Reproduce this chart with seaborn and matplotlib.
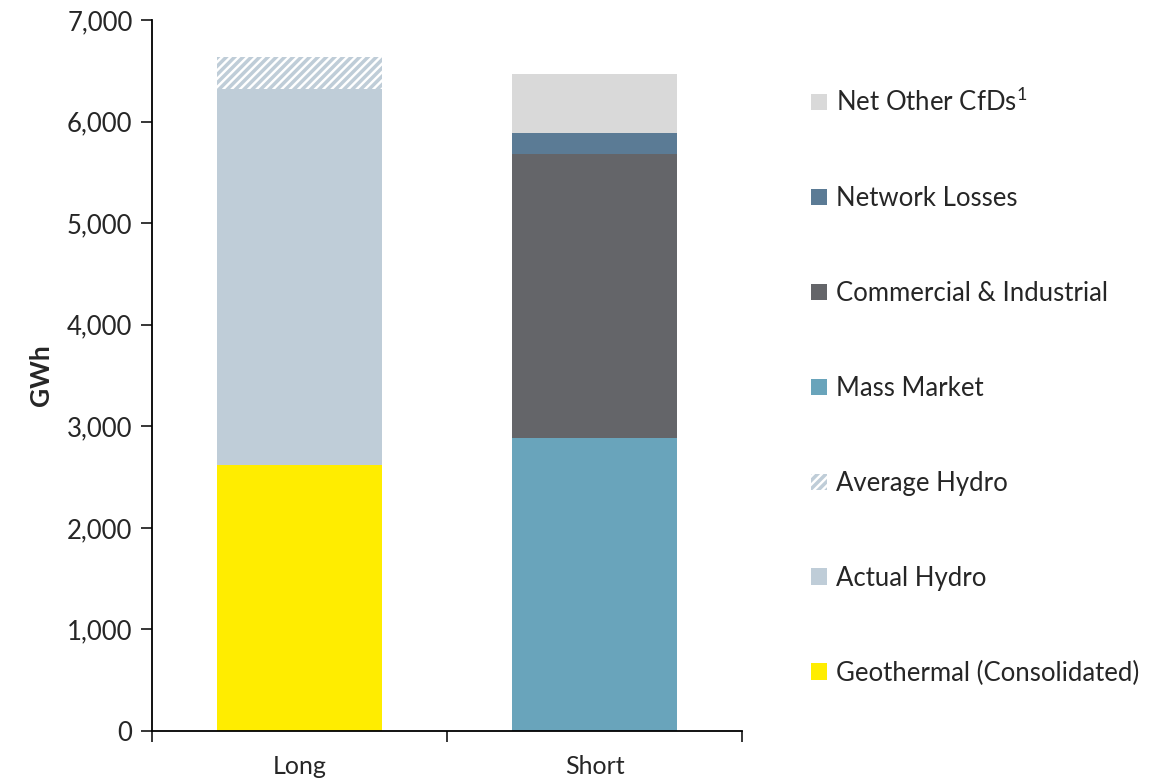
import pandas as pd
import seaborn as sns
import matplotlib.pyplot as plt
from matplotlib.patches import Patch
from matplotlib.ticker import FuncFormatter

# Values (GWh)
categories = ['Long', 'Short']
series = ['Geothermal (Consolidated)', 'Actual Hydro', 'Average Hydro',
          'Mass Market', 'Commercial & Industrial', 'Network Losses',
          'Net Other CfDs']
long_vals = [2620, 3700, 315, 0, 0, 0, 0]
short_vals = [0, 0, 0, 2880, 2800, 205, 585]
colors = ['#ffed00', '#bfcdd8', '#bfcdd8', '#69a4bb', '#646569', '#5b7b95',
          '#d9d9d9']
hatches = [None, None, '////', None, None, None, None]

sns.set_style('white')
plt.rcParams['font.family'] = ['Lato', 'DejaVu Sans']
plt.rcParams['mathtext.default'] = 'regular'
plt.rcParams['hatch.linewidth'] = 2.5

df = pd.DataFrame({'category': categories * len(series),
                   'series': [s for s in series for _ in categories],
                   'value': [v for pair in zip(long_vals, short_vals) for v in pair]})
df['top'] = df.groupby('category')['value'].cumsum()

fig = plt.figure(figsize=(11.76, 7.79), dpi=100)
ax = fig.add_axes([152 / 1176, 48 / 779, 590 / 1176, 711 / 779])

# draw from the top layer down so lower layers cover the upper ones
for i in reversed(range(len(series))):
    sub = df[df['series'] == series[i]]
    if hatches[i]:
        kw = dict(hatch=hatches[i], edgecolor=colors[i], facecolor='white')
    else:
        kw = dict(color=colors[i])
    sns.barplot(data=sub, x='category', y='top', order=categories, ax=ax,
                width=0.56, saturation=1, errorbar=None, linewidth=0, **kw)

ax.set_xlim(-0.5, 1.5)
ax.set_ylim(0, 7000)
ax.set_yticks(range(0, 7001, 1000))
ax.yaxis.set_major_formatter(FuncFormatter(lambda v, p: f'{int(v):,}'))
ax.set_xlabel('')
ax.set_ylabel('GWh', fontsize=19, fontweight='bold', labelpad=10)
ax.tick_params(axis='y', length=8, width=1.3, direction='out', labelsize=18.5,
               left=True, pad=6)
ax.tick_params(axis='x', which='major', length=0, labelsize=18, pad=17)
ax.set_xticks([-0.5, 0.5, 1.5], minor=True)
ax.tick_params(axis='x', which='minor', length=8, width=1.3, direction='out',
               bottom=True)
sns.despine(ax=ax)
for s in ['left', 'bottom']:
    ax.spines[s].set_linewidth(1.3)
    ax.spines[s].set_color('black')

labels = ['Net Other CfDs$^1$', 'Network Losses', 'Commercial & Industrial',
          'Mass Market', 'Average Hydro', 'Actual Hydro',
          'Geothermal (Consolidated)']
order = list(reversed(range(len(series))))
handles = []
for i in order:
    if hatches[i]:
        handles.append(Patch(facecolor='white', edgecolor=colors[i],
                             hatch=hatches[i], linewidth=0))
    else:
        handles.append(Patch(facecolor=colors[i], linewidth=0))
fig.legend(handles, labels, loc='center left',
           bbox_to_anchor=(788 / 1176, 1 - 387 / 779),
           frameon=False, fontsize=18.5, handlelength=0.6, handleheight=0.6,
           handletextpad=0.35, labelspacing=2.72)

fig.savefig('out.png', dpi=100)
